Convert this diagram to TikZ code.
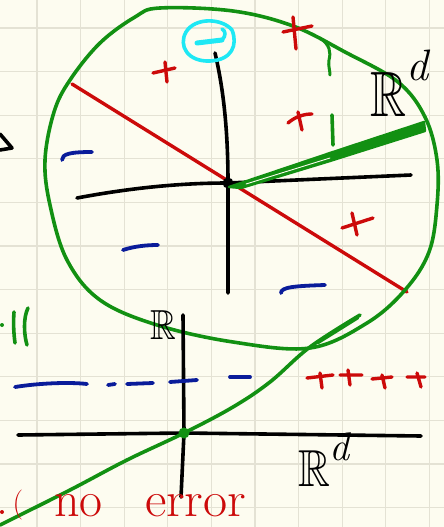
\documentclass[tikz,border=0pt]{standalone}
\usepackage{amssymb}
\definecolor{paper}{HTML}{FDFCF0}
\definecolor{gridc}{HTML}{E4E2D4}
\definecolor{pgreen}{HTML}{129012}
\definecolor{pred}{HTML}{CC0A0A}
\definecolor{pblue}{HTML}{0A1C9A}
\definecolor{pcyan}{HTML}{1EE8F4}
\begin{document}
\begin{tikzpicture}[x=1pt,y=-1pt,line cap=round,line join=round,
  gridline/.style={gridc,line width=1.1pt},
  greenink/.style={pgreen,line width=3.6pt},
  redink/.style={pred,line width=3.4pt},
  blueink/.style={pblue,line width=3.8pt},
  blackink/.style={black,line width=3.6pt},
  cyanink/.style={pcyan,line width=3.6pt},
  hand/.style={inner sep=0pt,outer sep=0pt}]
\fill[paper] (0,0) rectangle (444,527);
\useasboundingbox (0,0) rectangle (444,527);
% grid
\foreach \i in {0,...,9} \draw[gridline] ({37+43.6*\i},0) -- ({37+43.6*\i},527);
\foreach \j in {0,...,11} \draw[gridline] (0,{28+43.6*\j}) -- (444,{28+43.6*\j});

% ---------- upper figure ----------
% red separating line
\coordinate (rA) at (72,84);
\coordinate (rB) at (407,292);
\draw[redink] (rA) -- (rB);
% black axes
\coordinate (c0) at (228,183);
\coordinate (vTop) at (215,53);
\coordinate (vBot) at (228,293);
\coordinate (hL) at (77,198);
\coordinate (hR) at (411,175);
\draw[blackink] (vTop) .. controls (225,95) and (228,140) .. (c0) -- (vBot);
\draw[blackink] (hL) .. controls (130,188) and (180,183) .. (c0) -- (hR);
\fill[black] (c0) circle (5.5);
% green wedge (vector)
\filldraw[pgreen,line width=2.4pt] (229,187) -- (330,153) -- (424,122) -- (425,131) -- (330,161) -- (241,188) -- cycle;
\draw[paper,line width=0.9pt] (246,184) -- (330,158);
% green closed curve
\draw[greenink] plot[smooth cycle,tension=0.6] coordinates {
 (160,8) (233,11) (293,26) (345,52) (398,82) (425,117) (437,160) (437,205)
 (429,252) (405,290) (367,323) (310,348) (233,342) (157,325) (100,300)
 (67,260) (50,205) (45,160) (54,112) (70,80) (100,43) (135,17)};
\draw[greenink,line width=3pt] (320,38) .. controls (330,45) and (331,52) .. (329,60) .. controls (328,66) and (330,70) .. (330,75);
\draw[greenink] (332,115) -- (333,145);
% red pluses
\draw[redink] (153,73) -- (175,68) (165,62) -- (167,82);
\draw[redink] (283,32) -- (312,26) (293,17) -- (296,49);
\draw[redink] (288,123) .. controls (296,116) and (305,114) .. (312,114) (298,112) -- (302,130);
\draw[redink] (342,228) -- (373,218) (352,213) -- (357,235);
% blue minuses
\draw[blueink] (62,160) .. controls (62,154) and (70,152) .. (92,152);
\draw[blueink] (123,250) .. controls (135,246) and (148,245) .. (158,245);
\draw[blueink] (281,293) .. controls (281,287) and (295,286) .. (325,285);
% cyan circled minus
\draw[cyanink] (232,30) .. controls (222,18) and (195,17) .. (186,32) .. controls (178,46) and (188,62) .. (210,61) .. controls (232,60) and (238,45) .. (232,30);
\draw[cyanink,line width=5pt] (197,43) -- (222,40);
\draw[cyanink] (222,40) .. controls (226,36) and (226,31) .. (222,29);
% R^d label (upper)
\node[hand,font=\fontsize{64}{64}\selectfont,anchor=south west] (Rtop) at (370,116) {\scalebox{0.78}[1]{$\mathbb{R}$}\raisebox{0.55em}{\fontsize{44}{44}\selectfont\textit{d}}};
% partial mark at left edge
\draw[blackink] (0,134) -- (12,148) -- (0,150);

% ---------- lower figure ----------
\draw[greenink] (14,312) .. controls (13,325) and (14,335) .. (15,343);
\draw[greenink] (28,308) .. controls (23,318) and (24,335) .. (27,345);
\fill[pgreen] (2,325) circle (2);
\coordinate (o) at (184,433);
\coordinate (yTop) at (183,315);
\coordinate (yBot) at (181,497);
\coordinate (xL) at (18,435);
\coordinate (xR) at (421,436);
\draw[blackink] (yTop) -- (o) -- (yBot);
\draw[blackink] (xL) -- (o) -- (xR);
\node[hand,font=\fontsize{42}{42}\selectfont] (Rsmall) at (163,325) {\scalebox{0.85}[1]{$\mathbb{R}$}};
\node[hand,font=\fontsize{52}{52}\selectfont,anchor=south west] (Rbot) at (298,486) {\scalebox{0.85}[1]{$\mathbb{R}$}\raisebox{0.5em}{\fontsize{40}{40}\selectfont\textit{d}}};
% blue dashed minus region
\draw[blueink] (15,387) .. controls (40,383) and (70,382) .. (87,384);
\draw[blueink] (108,385) -- (115,384);
\draw[blueink] (127,384) -- (153,383);
\draw[blueink] (170,382) -- (197,380);
\draw[blueink] (230,377) -- (250,377);
% red pluses row
\draw[redink] (307,378) -- (333,375) (320,373) -- (322,388);
\draw[redink] (340,375) -- (362,375) (348,370) -- (350,385);
\draw[redink] (372,379) -- (392,377) (382,375) -- (385,388);
\draw[redink] (407,377) -- (425,377) (417,373) -- (421,387);
% green decision line
\draw[greenink] plot[smooth,tension=0.6] coordinates {(0,525) (70,490) (127,460) (184,433) (233,407) (270,382) (310,347) (360,315)};
\draw[greenink,line width=2.6pt] (318,343) -- (358,318);
\fill[pgreen] (o) circle (5.5);
% text
\fill[pred] (2,512) circle (2);
\node[hand,text=pred,font=\fontsize{30}{30}\selectfont] (par) at (18,505) {(};
\node[hand,text=pred,font=\fontsize{50}{50}\selectfont,anchor=base west] (no) at (54,516) {no};
\node[hand,text=pred,font=\fontsize{50}{50}\selectfont,anchor=base west] (err) at (145,516) {\scalebox{1.05}[1]{error}};
\end{tikzpicture}
\end{document}
